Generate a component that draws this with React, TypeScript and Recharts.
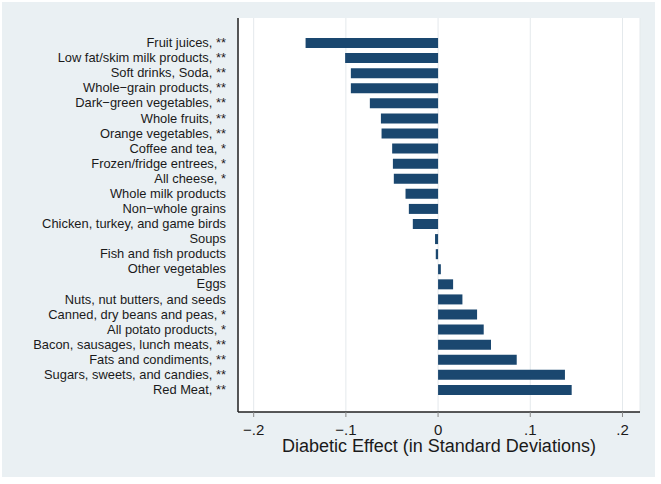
import React from "react";
import { BarChart, Bar, XAxis, YAxis, CartesianGrid } from "recharts";

const categories: string[] = [
  "Fruit juices, **",
  "Low fat/skim milk products, **",
  "Soft drinks, Soda, **",
  "Whole−grain products, **",
  "Dark−green vegetables, **",
  "Whole fruits, **",
  "Orange vegetables, **",
  "Coffee and tea, *",
  "Frozen/fridge entrees, *",
  "All cheese, *",
  "Whole milk products",
  "Non−whole grains",
  "Chicken, turkey, and game birds",
  "Soups",
  "Fish and fish products",
  "Other vegetables",
  "Eggs",
  "Nuts, nut butters, and seeds",
  "Canned, dry beans and peas, *",
  "All potato products, *",
  "Bacon, sausages, lunch meats, **",
  "Fats and condiments, **",
  "Sugars, sweets, and candies, **",
  "Red Meat, **",
];

const effects: number[] = [
  -0.1437, -0.1008, -0.0946, -0.0946, -0.074, -0.062, -0.0613, -0.0498,
  -0.049, -0.048, -0.0353, -0.0317, -0.0274, -0.0033, -0.0025, 0.003,
  0.0163, 0.0264, 0.0423, 0.0495, 0.0574, 0.0853, 0.1376, 0.1449,
];

const xTicks: number[] = [-0.2, -0.1, 0, 0.1, 0.2];
const xTitle = "Diabetic Effect (in Standard Deviations)";

const data = categories.map((name, i) => ({ name, value: effects[i] }));

const fmt = (v: number) =>
  v === 0 ? "0" : (v < 0 ? "−" : "") + "." + Math.round(Math.abs(v) * 10);

const FONT = "'Liberation Sans', Arial, sans-serif";

export default function App() {
  return (
    <div
      style={{
        position: "absolute",
        left: 0,
        top: 0,
        width: 661,
        height: 484,
        background: "#ffffff",
        fontFamily: FONT,
      }}
    >
      <div
        style={{
          position: "absolute",
          left: 2,
          top: 2,
          width: 653,
          height: 475,
          background: "#eaf0f3",
        }}
      />
      <div style={{ position: "absolute", left: 0, top: 0 }}>
        <BarChart
          width={661}
          height={484}
          data={data}
          layout="vertical"
          margin={{ top: 18, right: 21, left: 0, bottom: 0 }}
        >
          <CartesianGrid
            horizontal={false}
            vertical={true}
            fill="#ffffff"
            stroke="#e4e9ec"
            strokeWidth={1}
          />
          <XAxis
            type="number"
            domain={[-0.217, 0.219]}
            ticks={xTicks}
            tickFormatter={fmt}
            height={72}
            tickSize={5}
            tickMargin={7}
            axisLine={{ stroke: "#222", strokeWidth: 1.5 }}
            tickLine={{ stroke: "#888" }}
            tick={{ fill: "#1a1a1a", fontSize: 15, fontFamily: FONT }}
            allowDataOverflow
            label={{
              value: xTitle,
              position: "insideBottom",
              offset: 32,
              fill: "#1a1a1a",
              fontSize: 18,
              fontFamily: FONT,
            }}
          />
          <YAxis
            type="category"
            dataKey="name"
            width={238}
            tickSize={6}
            tickMargin={6}
            tickLine={false}
            interval={0}
            padding={{ top: 17, bottom: 15 }}
            axisLine={{ stroke: "#222", strokeWidth: 1.5 }}
            tick={{ fill: "#1a1a1a", fontSize: 12.9, fontFamily: FONT }}
          />
          <Bar
            dataKey="value"
            fill="#1a476f"
            barSize={10}
            isAnimationActive={false}
          />
        </BarChart>
      </div>
    </div>
  );
}
